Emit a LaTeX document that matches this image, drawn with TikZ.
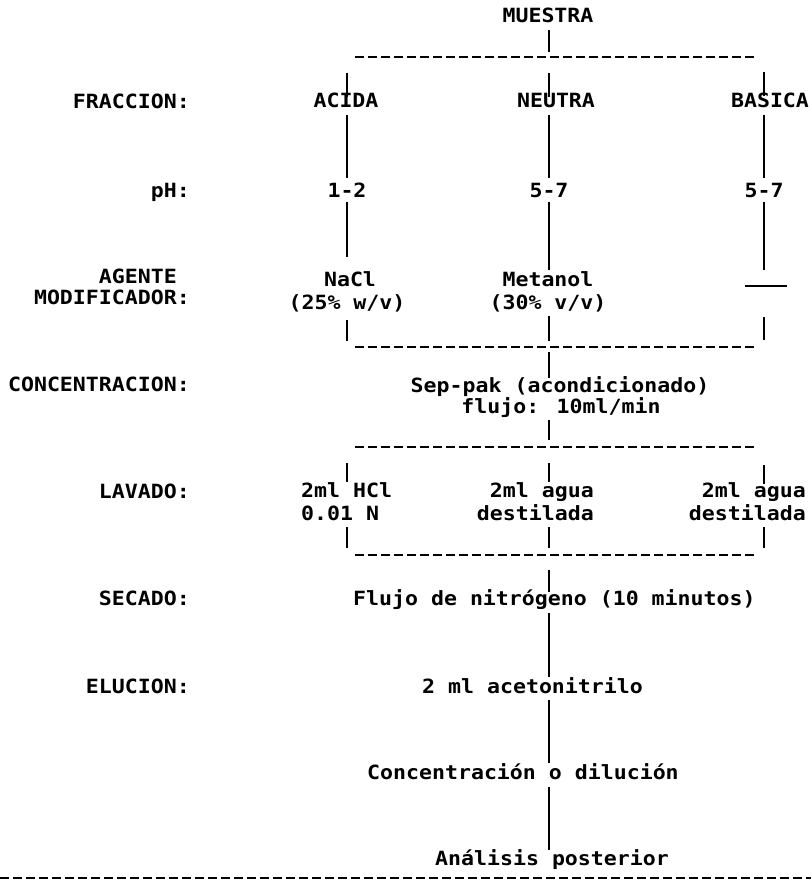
\documentclass[tikz,border=0pt]{standalone}
\usepackage{fontspec}
\newfontfamily\tw[FakeStretch=1.1]{DejaVu Sans Mono}
\begin{document}
\begin{tikzpicture}[x=1pt,y=-1pt,
  txt/.style={inner sep=0pt,font=\tw\bfseries\fontsize{19.6}{22}\selectfont,anchor=base},
  lab/.style={txt,anchor=base east},
  txtw/.style={txt,anchor=base west},
  txte/.style={txt,anchor=base east},
  vl/.style={line width=2.3pt},
  bus/.style={line width=2.3pt,dash pattern=on 9pt off 4pt}]
\useasboundingbox (0,0) rectangle (811,880);
\fill[white] (0,0) rectangle (811,880);

% left labels
\node[lab] (lfrac) at (190,109) {FRACCION:};
\node[lab] (lph) at (190,197) {pH:};
\node[lab] (lag1) at (177,283) {AGENTE};
\node[lab] (lag2) at (190,304) {MODIFICADOR:};
\node[lab] (lconc) at (190,391) {CONCENTRACION:};
\node[lab] (llav) at (190,498) {LAVADO:};
\node[lab] (lsec) at (190,605) {SECADO:};
\node[lab] (lelu) at (190,693) {ELUCION:};

% texts
\node[txt] (muestra) at (548,23) {MUESTRA};
\node[txt] (acida) at (346,107) {ACIDA};
\node[txt] (neutra) at (556,107) {NEUTRA};
\node[txt] (basica) at (770,107) {BASICA};
\node[txt] (ph1) at (347,197) {1-2};
\node[txt] (ph2) at (549,197) {5-7};
\node[txt] (ph3) at (764,197) {5-7};
\node[txt] (nacl) at (350,286) {NaCl};
\node[txt] (nacl2) at (347,309) {(25\% w/v)};
\node[txt] (met) at (548,286) {Metanol};
\node[txt] (met2) at (548,309) {(30\% v/v)};
\node[txt] (sep) at (560,392.5) {Sep-pak (acondicionado)};
\node[txt] (flujo) at (561,413) {flujo: 10ml/min};
\node[txtw] (hcl) at (301,497) {2ml HCl};
\node[txtw] (hcl2) at (301,520) {0.01 N};
\node[txte] (agua1) at (594,497) {2ml agua};
\node[txte] (dest1) at (594,520) {destilada};
\node[txte] (agua2) at (806,497) {2ml agua};
\node[txte] (dest2) at (806,520) {destilada};
\node[txtw] (nitro) at (353,605) {Flujo de nitrógeno (10 minutos)};
\node[txtw] (aceto) at (422,693) {2 ml acetonitrilo};
\node[txtw] (concd) at (367,779) {Concentración o dilución};
\node[txtw] (anal) at (435,865) {Análisis posterior};

% coordinates
\path (549,30) coordinate (m0) (549,52) coordinate (m1)
  (355,57) coordinate (b1l) (755,57) coordinate (b1r)
  (347,73) coordinate (a0) (347,97) coordinate (a1) (347,115) coordinate (a2) (347,178) coordinate (a3)
  (347,202) coordinate (a4) (347,257) coordinate (a5) (347,320) coordinate (a6) (347,341) coordinate (a7)
  (549,73) coordinate (n0) (549,97) coordinate (n1) (549,115) coordinate (n2) (549,178) coordinate (n3)
  (549,202) coordinate (n4) (549,270) coordinate (n5) (549,316) coordinate (n6) (549,341) coordinate (n7)
  (764,72) coordinate (c0) (764,96) coordinate (c1) (764,115) coordinate (c2) (764,178) coordinate (c3)
  (764,202) coordinate (c4) (764,270) coordinate (c5) (764,317) coordinate (c6) (764,340) coordinate (c7)
  (745,286) coordinate (h0) (787,286) coordinate (h1)
  (355,347) coordinate (b2l) (755,347) coordinate (b2r)
  (549,352) coordinate (s0) (549,378) coordinate (s1) (549,420) coordinate (s2) (549,440) coordinate (s3)
  (355,447) coordinate (b3l) (755,447) coordinate (b3r)
  (347,463) coordinate (l0) (347,482) coordinate (l1) (549,463) coordinate (l2) (549,482) coordinate (l3)
  (764,465) coordinate (l4) (764,484) coordinate (l5)
  (347,527) coordinate (k0) (347,548) coordinate (k1) (549,527) coordinate (k2) (549,548) coordinate (k3)
  (764,527) coordinate (k4) (764,548) coordinate (k5)
  (355,555) coordinate (b4l) (755,555) coordinate (b4r)
  (549,570) coordinate (e0) (549,592) coordinate (e1) (549,613) coordinate (e2) (549,677) coordinate (e3)
  (549,700) coordinate (e4) (549,763) coordinate (e5) (549,787) coordinate (e6) (549,850) coordinate (e7)
  (0,878) coordinate (bbl) (811,878) coordinate (bbr);

% vertical connectors
\draw[vl] (m0)--(m1);
\foreach \p/\q in {a0/a1,a2/a3,a4/a5,a6/a7,n0/n1,n2/n3,n4/n5,n6/n7,c0/c1,c2/c3,c4/c5,c6/c7,h0/h1,
  s0/s1,s2/s3,l0/l1,l2/l3,l4/l5,k0/k1,k2/k3,k4/k5,e0/e1,e2/e3,e4/e5,e6/e7}
  \draw[vl] (\p)--(\q);
% dashed buses
\foreach \p/\q in {b1l/b1r,b2l/b2r,b3l/b3r,b4l/b4r,bbl/bbr}
  \draw[bus] (\p)--(\q);
\end{tikzpicture}
\end{document}
